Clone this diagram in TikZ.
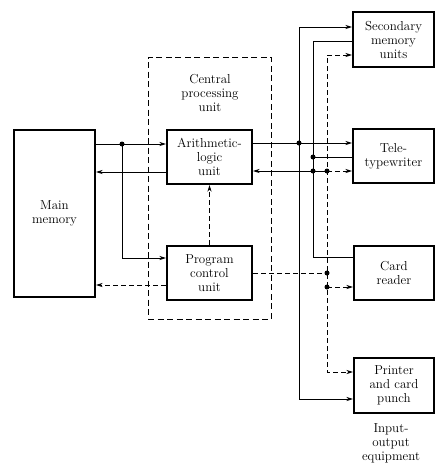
\documentclass[tikz,border=0pt]{standalone}
\usetikzlibrary{arrows.meta}
\begin{document}
\begin{tikzpicture}[x=1pt,y=-1pt, line width=0.8pt,
  >={Stealth[length=6.5pt,width=4.2pt]},
  box/.style={draw, line width=2.3pt, align=center, inner sep=0pt,
    font=\fontsize{13}{14}\selectfont},
  lbl/.style={align=center, inner sep=0pt, font=\fontsize{13}{14}\selectfont},
  dot/.style={circle, fill, inner sep=0pt, minimum size=5pt},
  dsh/.style={dash pattern=on 5pt off 3pt},
  cpubox/.style={draw, dash pattern=on 6pt off 3.5pt, line width=0.8pt, inner sep=0pt}]
\useasboundingbox (0,0) rectangle (447,474);

% boxes
\node[box, minimum width=81pt, minimum height=167pt] (mm) at (54.5,213.5) {Main\\memory};
\node[cpubox, minimum width=123pt, minimum height=262pt] (cpu) at (209.5,188) {};
\node[lbl] (cpul) at (210,93) {Central\\processing\\unit};
\node[box, minimum width=85pt, minimum height=54pt] (alu) at (209.5,157) {Arithmetic-\\logic\\unit};
\node[box, minimum width=85pt, minimum height=54pt] (pcu) at (209.5,273) {Program\\control\\unit};
\node[box, minimum width=81pt, minimum height=55pt] (sec) at (393.5,39.5) {Secondary\\memory\\units};
\node[box, minimum width=81pt, minimum height=54pt] (tt) at (393.5,156) {Tele-\\typewriter};
\node[box, minimum width=80pt, minimum height=54pt] (cr) at (394,273) {Card\\reader};
\node[box, minimum width=80pt, minimum height=55pt] (pr) at (394,385.5) {Printer\\and card\\punch};
\node[lbl] (iol) at (391,443) {Input-\\output\\equipment};

% left side
\coordinate (a1) at (122,144);
\coordinate (a2) at (122,258);
\coordinate (b1) at (160,172);
\coordinate (b2) at (160,285);
\draw[->] (mm.east |- a1) -- (alu.west |- a1);
\draw[->] (a1) -- (a2) -- (pcu.west |- a2);
\draw[->] (alu.west |- b1) -- (mm.east |- b1);
\draw[->,dsh] (pcu.west |- b2) -- (mm.east |- b2);
\draw[->,dsh] (pcu.north) -- (alu.south);

% right side: solid bus x=299
\coordinate (s1) at (299,143);
\coordinate (s1t) at (299,27);
\coordinate (s1b) at (299,399);
\draw[->] (alu.east |- s1) -- (tt.west |- s1);
\draw[->] (s1) -- (s1t) -- (sec.west |- s1t);
\draw[->] (s1) -- (s1b) -- (pr.west |- s1b);

% solid bus x=313
\coordinate (s2t) at (313,41);
\coordinate (s2a) at (313,157);
\coordinate (s2b) at (313,171);
\coordinate (s2c) at (313,257);
\draw (sec.west |- s2t) -- (s2t) -- (s2c) -- (cr.west |- s2c);
\draw (tt.west |- s2a) -- (s2a);

% dashed control bus x=327
\coordinate (c0) at (327,55);
\coordinate (c1) at (327,171);
\coordinate (c2) at (327,273);
\coordinate (c3) at (327,287);
\coordinate (c4) at (327,372);
\draw[->] (c1) -- (alu.east |- c1);
\draw[->,dsh] (c1) -- (tt.west |- c1);
\draw[<->,dsh] (sec.west |- c0) -- (c0) -- (c4) -- (pr.west |- c4);
\draw[dsh] (pcu.east |- c2) -- (c2);
\draw[->,dsh] (c3) -- (cr.west |- c3);

% junction dots
\foreach \p in {a1,s1,s2a,s2b,c1,c2,c3}
  \node[dot] at (\p) {};
\end{tikzpicture}
\end{document}
